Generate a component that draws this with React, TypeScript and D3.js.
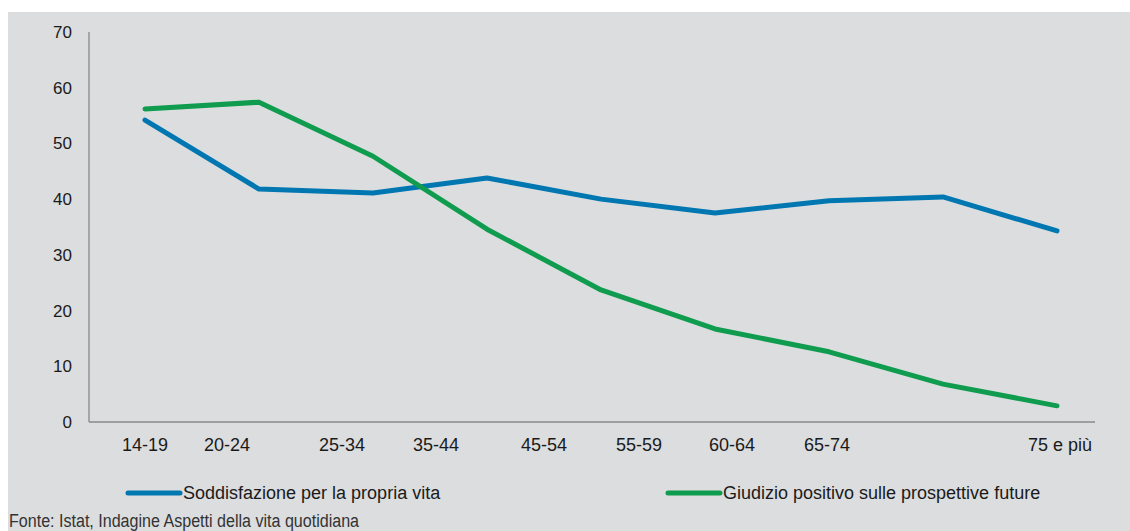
import { useEffect, useRef } from "react";
import * as d3 from "d3";

const ageGroups = ["14-19", "20-24", "25-34", "35-44", "45-54", "55-59", "60-64", "65-74", "75 e più"];
const soddisfazione = [54.2, 41.8, 41.1, 43.8, 40.0, 37.5, 39.7, 40.4, 34.3];
const prospettive = [56.2, 57.4, 47.7, 34.6, 23.7, 16.7, 12.6, 6.8, 2.9];
const yTicks = [0, 10, 20, 30, 40, 50, 60, 70];
// the source places category labels off the point positions
const labelNudge = [0, -32, -31, -51, -57, -76, -97, -116, 3];
const seriesNames = ["Soddisfazione per la propria vita", "Giudizio positivo sulle prospettive future"];
const seriesColors = ["#0077b1", "#0f9c4f"];
const source = "Fonte: Istat, Indagine Aspetti della vita quotidiana";

const App = () => {
  const chartRef = useRef(null);

  useEffect(() => {
    const width = 1130;
    const height = 531;
    const axisLeft = 89;
    const axisRight = 1095;
    const yTop = 32;
    const yBottom = 422;

    const svg = d3
      .select(chartRef.current)
      .append("svg")
      .attr("width", width)
      .attr("height", height)
      .style("position", "absolute")
      .style("left", 0)
      .style("top", 0)
      .style("font-family", "'Liberation Sans', Arial, sans-serif");

    svg
      .append("rect")
      .attr("x", 8)
      .attr("y", 12)
      .attr("width", width - 8)
      .attr("height", height - 12)
      .attr("fill", "#dcdddf");

    const xScale = d3.scalePoint().domain(ageGroups).range([145, 1057]);
    const yScale = d3.scaleLinear().domain([0, 70]).range([yBottom, yTop]);

    // axes
    svg
      .append("line")
      .attr("x1", axisLeft)
      .attr("x2", axisLeft)
      .attr("y1", yTop)
      .attr("y2", yBottom)
      .attr("stroke", "#888")
      .attr("stroke-width", 1.3);
    svg
      .append("line")
      .attr("x1", axisLeft)
      .attr("x2", axisRight)
      .attr("y1", yBottom)
      .attr("y2", yBottom)
      .attr("stroke", "#888")
      .attr("stroke-width", 1.3);

    svg
      .append("g")
      .selectAll("text")
      .data(yTicks)
      .join("text")
      .attr("x", 72)
      .attr("y", (d) => yScale(d) + 6)
      .attr("text-anchor", "end")
      .attr("font-size", 17)
      .attr("fill", "#1a1a1a")
      .text((d) => d);

    svg
      .append("g")
      .selectAll("text")
      .data(ageGroups)
      .join("text")
      .attr("x", (d, i) => xScale(d)! + labelNudge[i])
      .attr("y", 451)
      .attr("text-anchor", "middle")
      .attr("font-size", 18)
      .attr("fill", "#1a1a1a")
      .text((d) => d);

    const line = d3
      .line<number>()
      .x((_, i) => xScale(ageGroups[i])!)
      .y((d) => yScale(d));

    [soddisfazione, prospettive].forEach((values, k) => {
      svg
        .append("path")
        .datum(values)
        .attr("d", line)
        .attr("fill", "none")
        .attr("stroke", seriesColors[k])
        .attr("stroke-width", 5)
        .attr("stroke-linecap", "round")
        .attr("stroke-linejoin", "round");
    });

    // legend
    const legendX = [128, 668];
    seriesNames.forEach((name, k) => {
      const g = svg.append("g").attr("transform", `translate(${legendX[k]},493)`);
      g.append("line")
        .attr("x1", 0)
        .attr("x2", 52)
        .attr("stroke", seriesColors[k])
        .attr("stroke-width", 5)
        .attr("stroke-linecap", "round");
      g.append("text")
        .attr("x", 55)
        .attr("y", 6)
        .attr("font-size", 18)
        .attr("fill", "#1a1a1a")
        .text(name);
    });

    svg
      .append("text")
      .attr("x", 9)
      .attr("y", 527)
      .attr("font-size", 18)
      .attr("font-family", "'Liberation Sans Narrow', 'Liberation Sans', Arial, sans-serif")
      .attr("textLength", 350)
      .attr("lengthAdjust", "spacingAndGlyphs")
      .attr("fill", "#333")
      .text(source);

    return () => {
      d3.select(chartRef.current).selectAll("*").remove();
    };
  }, []);

  return <div ref={chartRef}></div>;
};

export default App;
